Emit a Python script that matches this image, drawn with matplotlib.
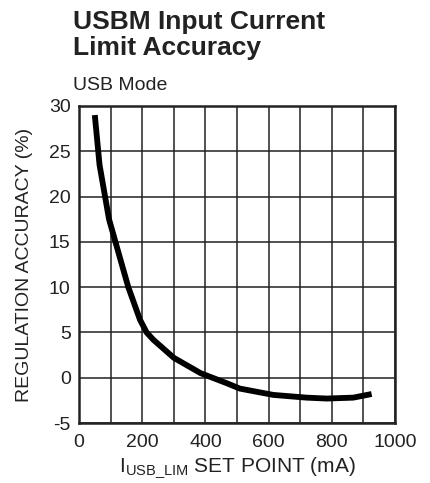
import matplotlib.pyplot as plt
from matplotlib.ticker import MultipleLocator

plt.rcParams["font.family"] = ["Liberation Sans", "DejaVu Sans"]
plt.rcParams["mathtext.fontset"] = "custom"
plt.rcParams["mathtext.rm"] = "Liberation Sans"
plt.rcParams["axes.unicode_minus"] = False

# -------------------------
# Data
# -------------------------
set_point_ma = [50, 65, 95, 125, 156, 193, 214, 235, 300, 385, 467, 509, 615, 720, 784, 868, 926]
accuracy_pct = [29.0, 23.5, 17.5, 13.8, 10.0, 6.4, 5.0, 4.2, 2.2, 0.5, -0.6, -1.2, -1.9, -2.2, -2.3, -2.2, -1.8]

x_ticks = [0, 200, 400, 600, 800, 1000]
y_ticks = [-5, 0, 5, 10, 15, 20, 25, 30]

W, H = 430, 483
fig = plt.figure(figsize=(W / 100, H / 100), dpi=100)
ax = fig.add_axes([79 / W, 60 / H, 316 / W, 317 / H])

ax.plot(set_point_ma, accuracy_pct, color="black", linewidth=4.2, solid_capstyle="butt")

ax.set_xlim(0, 1000)
ax.set_ylim(-5, 30)
ax.set_xticks(x_ticks)
ax.set_yticks(y_ticks)
ax.xaxis.set_minor_locator(MultipleLocator(100))
ax.grid(True, which="both", color="#222222", linewidth=1.1)
ax.tick_params(which="both", length=0, labelsize=14, colors="#222222")
ax.tick_params(axis="y", pad=6)
ax.tick_params(axis="x", pad=8)

for s in ax.spines.values():
    s.set_linewidth(1.8)
    s.set_color("#222222")

ax.set_ylabel("REGULATION ACCURACY (%)", fontsize=14, color="#222222", va="center")
ax.yaxis.set_label_coords(-54.5 / 316, 0.5)
ax.set_xlabel(r"I$_{\mathregular{USB\_LIM}}$ SET POINT (mA)", fontsize=15, color="#222222")
ax.xaxis.set_label_coords(0.5, -(472 - 423) / 317)
ax.xaxis.label.set_va("baseline")

# title block (two lines set tightly, as in the datasheet)
fig.text(73 / W, 1 - 29 / H, "USBM Input Current", fontsize=19,
         fontweight="bold", color="#222222", va="baseline")
fig.text(73 / W, 1 - 55 / H, "Limit Accuracy", fontsize=19,
         fontweight="bold", color="#222222", va="baseline")
fig.text(73 / W, 1 - 90 / H, "USB Mode", fontsize=14, color="#222222", va="baseline")

plt.savefig("out.png", dpi=100)
